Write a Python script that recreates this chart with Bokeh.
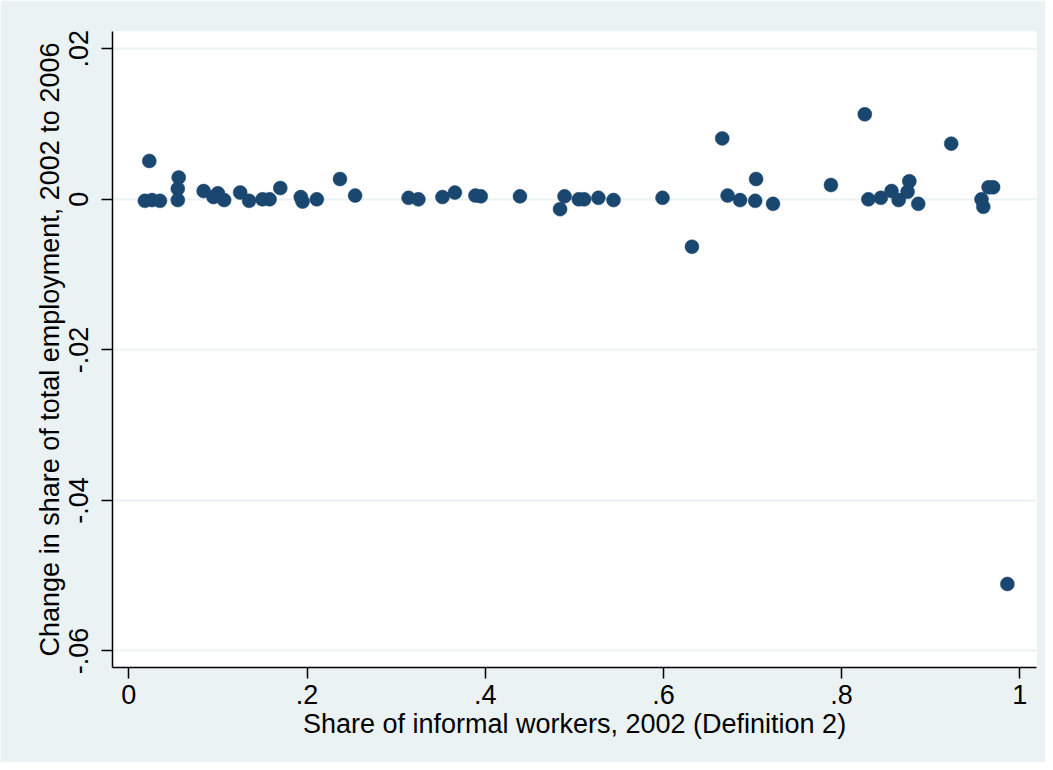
from bokeh.plotting import figure
from bokeh.models import FixedTicker, Range1d
from bokeh.embed import file_html
from bokeh.resources import INLINE

# Share of informal workers, 2002 (Definition 2)
informal_share = [
    0.018, 0.023, 0.026, 0.035, 0.055, 0.055, 0.056, 0.084, 0.095, 0.100,
    0.107, 0.125, 0.135, 0.150, 0.158, 0.170, 0.193, 0.195, 0.211, 0.237,
    0.254, 0.314, 0.325, 0.352, 0.366, 0.389, 0.395, 0.439, 0.484, 0.489,
    0.505, 0.511, 0.527, 0.544, 0.599, 0.632, 0.666, 0.672, 0.686, 0.703,
    0.704, 0.723, 0.788, 0.826, 0.830, 0.844, 0.856, 0.864, 0.874, 0.876,
    0.886, 0.923, 0.957, 0.959, 0.965, 0.970, 0.986,
]
# Change in share of total employment, 2002 to 2006
employment_change = [
    -0.0002, 0.0051, -0.0001, -0.0002, 0.0014, -0.0001, 0.0029, 0.0011, 0.0003, 0.0008,
    -0.0001, 0.0009, -0.0002, 0.0000, 0.0000, 0.0015, 0.0003, -0.0003, 0.0000, 0.0027,
    0.0005, 0.0002, 0.0000, 0.0003, 0.0009, 0.0005, 0.0004, 0.0004, -0.0013, 0.0004,
    0.0000, 0.0000, 0.0002, -0.0001, 0.0002, -0.0063, 0.0081, 0.0005, -0.0001, -0.0002,
    0.0027, -0.0006, 0.0019, 0.0113, 0.0000, 0.0002, 0.0011, -0.0001, 0.0010, 0.0024,
    -0.0006, 0.0074, 0.0000, -0.0010, 0.0016, 0.0016, -0.0511,
]

x_ticks = [0, 0.2, 0.4, 0.6, 0.8, 1.0]
x_tick_labels = ["0", ".2", ".4", ".6", ".8", "1"]
y_ticks = [-0.06, -0.04, -0.02, 0, 0.02]
y_tick_labels = ["-.06", "-.04", "-.02", "0", ".02"]

BG = "#eaf2f3"
MARK = "#1a476f"
FONT = "Liberation Sans"

p = figure(
    width=1045, height=762,
    output_backend="svg", toolbar_location=None,
    x_range=Range1d(-0.0183, 1.0187), y_range=Range1d(-0.0622, 0.0223),
    min_border_left=112, min_border_right=9, min_border_top=31, min_border_bottom=95,
    background_fill_color="white", border_fill_color=BG,
)
p.outline_line_color = None

p.scatter(informal_share, employment_change, size=14,
          fill_color=MARK, line_color=MARK, line_width=0.5)

p.xaxis.ticker = FixedTicker(ticks=x_ticks)
p.xaxis.major_label_overrides = dict(zip(x_ticks, x_tick_labels))
p.yaxis.ticker = FixedTicker(ticks=y_ticks)
p.yaxis.major_label_overrides = dict(zip(y_ticks, y_tick_labels))
p.yaxis.major_label_orientation = "vertical"

p.xaxis.axis_label = "Share of informal workers, 2002 (Definition 2)"
p.yaxis.axis_label = "Change in share of total employment, 2002 to 2006"

for ax in (p.xaxis, p.yaxis):
    ax.axis_line_color = "black"
    ax.axis_line_width = 1.5
    ax.major_tick_line_color = "black"
    ax.major_tick_line_width = 1.5
    ax.major_tick_out = 11
    ax.major_tick_in = 0
    ax.minor_tick_line_color = None
    ax.major_label_text_font = FONT
    ax.major_label_text_font_size = "27px"
    ax.major_label_text_color = "black"
    ax.major_label_standoff = 6
    ax.axis_label_text_font = FONT
    ax.axis_label_text_font_size = "27px"
    ax.axis_label_text_font_style = "normal"
    ax.axis_label_text_color = "black"
    ax.axis_label_standoff = 2

p.yaxis.major_label_standoff = 13

p.xgrid.grid_line_color = None
p.ygrid.ticker = FixedTicker(ticks=y_ticks)
p.ygrid.grid_line_color = BG
p.ygrid.grid_line_width = 2

open("out.html", "w").write(file_html(p, INLINE))
